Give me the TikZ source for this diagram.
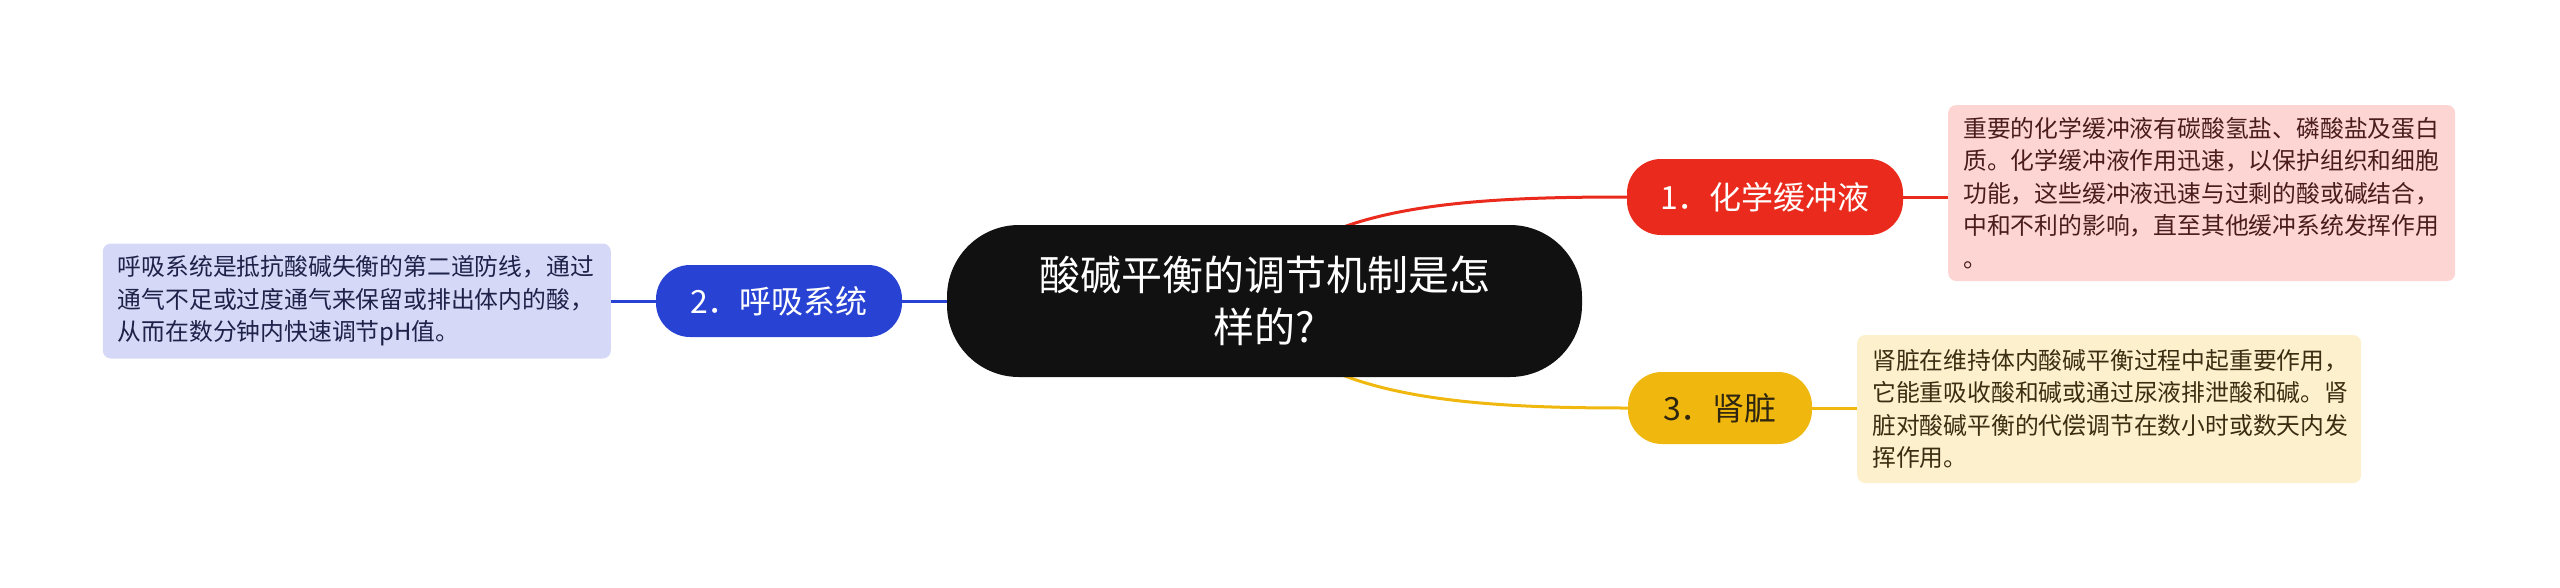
\documentclass[tikz,border=0pt]{standalone}
\usepackage{fontspec}
\setmainfont{Noto Sans CJK SC}
\usetikzlibrary{backgrounds,calc}
\definecolor{cblack}{HTML}{111111}
\definecolor{cred}{HTML}{EA2A1C}
\definecolor{cblue}{HTML}{2843D4}
\definecolor{cyellow}{HTML}{F0B70F}
\definecolor{cpink}{HTML}{FDD6D4}
\definecolor{cpinkt}{HTML}{4A1C1C}
\definecolor{clav}{HTML}{D5D9F7}
\definecolor{clavt}{HTML}{1E2148}
\definecolor{ccream}{HTML}{FDF0CD}
\definecolor{ccreamt}{HTML}{3A2E12}
\definecolor{cdark}{HTML}{2E2610}
\begin{document}
\begin{tikzpicture}[x=1pt,y=-1pt,
  pill/.style={rounded corners=34pt, inner sep=0pt, text=white, font=\fontsize{32}{40}\selectfont},
  infobox/.style={rounded corners=8pt, inner xsep=15pt, inner ysep=0pt, align=left, font=\fontsize{23.8}{32.6}\selectfont},
  link/.style={line width=3pt}]
\useasboundingbox (0,0) rectangle (2560,587);
\node[fill=cblack, rounded corners=72pt, minimum width=635pt, minimum height=152pt, inner sep=0pt, text=white, align=center, font=\fontsize{41}{52}\selectfont] (c) at (1264.5,301) {酸碱平衡的调节机制是怎\\样的?};
\node[pill, fill=cred, minimum width=276pt, minimum height=76pt] (n1) at (1765,197) {1．化学缓冲液};
\node[pill, fill=cblue, minimum width=246pt, minimum height=72pt] (n2) at (779,301) {2．呼吸系统};
\node[pill, fill=cyellow, text=cdark, minimum width=184pt, minimum height=72pt] (n3) at (1720,408) {3．肾脏};
\node[infobox, fill=cpink, text=cpinkt, text width=477pt, minimum height=176pt, anchor=west] (b1) at (1948,193) {重要的化学缓冲液有碳酸氢盐、磷酸盐及蛋白\\质。化学缓冲液作用迅速，以保护组织和细胞\\功能，这些缓冲液迅速与过剩的酸或碱结合，\\中和不利的影响，直至其他缓冲系统发挥作用\\。};
\node[infobox, fill=clav, text=clavt, text width=478pt, minimum height=115pt, anchor=east] (b2) at (611,301) {呼吸系统是抵抗酸碱失衡的第二道防线，通过\\通气不足或过度通气来保留或排出体内的酸，\\从而在数分钟内快速调节pH值。};
\node[infobox, fill=ccream, text=ccreamt, text width=474pt, minimum height=148pt, anchor=west] (b3) at (1857,409) {肾脏在维持体内酸碱平衡过程中起重要作用，\\它能重吸收酸和碱或通过尿液排泄酸和碱。肾\\脏对酸碱平衡的代偿调节在数小时或数天内发\\挥作用。};
\begin{scope}[on background layer]
\draw[link, cred] ($(c.north)+(60,10)$) .. controls (1400,200) and (1520,197) .. (n1.west);
\draw[link, cyellow] ($(c.south)+(60,-10)$) .. controls (1400,404) and (1520,408) .. (n3.west);
\draw[link, cblue] (c.west) -- (n2.east);
\end{scope}
\draw[link, cred] (n1.east) -- (n1.east -| b1.west);
\draw[link, cblue] (n2.west) -- (n2.west -| b2.east);
\draw[link, cyellow] (n3.east) -- (n3.east -| b3.west);
\end{tikzpicture}
\end{document}
